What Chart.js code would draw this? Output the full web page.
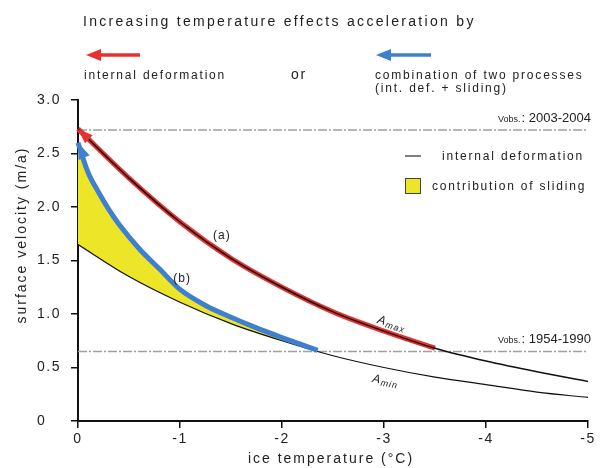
<!DOCTYPE html>
<html>
<head>
<meta charset="utf-8">
<script src="https://cdn.jsdelivr.net/npm/chart.js@4.4.0/dist/chart.umd.min.js"></script>
<style>
html, body { margin: 0; padding: 0; background: #fff; }
#wrap { width: 604px; height: 468px; }
</style>
</head>
<body>
<div id="wrap"><canvas id="c" width="604" height="468"></canvas></div>
<script>
// ice temperature (°C) and modelled surface velocity (m/a)
var temps = [0, -0.5, -1, -1.5, -2, -2.5, -3, -3.5, -4, -4.5, -5];
var amax  = [2.73, 2.27, 1.86, 1.52, 1.25, 1.02, 0.84, 0.68, 0.56, 0.46, 0.37];
var amin  = [1.65, 1.35, 1.11, 0.91, 0.75, 0.61, 0.50, 0.41, 0.34, 0.27, 0.22];
var redEnd = 7; // Amax highlighted down to -3.5 °C

// curve (b): internal deformation + sliding, and Amin under it
var slideTemps = [0, -0.1, -0.2, -0.3, -0.4, -0.6, -0.8, -1.0, -1.25, -1.5, -1.75, -2.0, -2.35];
var slideTop   = [2.6, 2.32, 2.14, 1.98, 1.84, 1.61, 1.42, 1.23, 1.08, 0.97, 0.87, 0.78, 0.66];
var slideFloor = [1.65, 1.59, 1.52, 1.46, 1.40, 1.30, 1.20, 1.11, 1.00, 0.91, 0.82, 0.75, 0.65];

// observed velocities
var obsLevels = [2.72, 0.65];
var obsLabels = ['2003-2004', '1954-1990'];

var xTicks = [0, -1, -2, -3, -4, -5];
var yTicks = [0, 0.5, 1, 1.5, 2, 2.5, 3];

var FONT = '"Liberation Sans", Arial, sans-serif';
var TEXT = '#222';
var RED = '#e8302f', BLUE = '#3f7fcf', YELLOW = '#ede628', GREY = '#a0a0a0';

function pts(xs, ys) {
  return xs.map(function (x, i) { return { x: x, y: ys[i] }; });
}

function arrowHead(ctx, tx, ty, fx, fy, color, len, half) {
  var a = Math.atan2(ty - fy, tx - fx);
  var bx = tx - len * Math.cos(a), by = ty - len * Math.sin(a);
  ctx.beginPath();
  ctx.moveTo(tx, ty);
  ctx.lineTo(bx + half * Math.sin(a), by - half * Math.cos(a));
  ctx.lineTo(bx - half * Math.sin(a), by + half * Math.cos(a));
  ctx.closePath();
  ctx.fillStyle = color;
  ctx.fill();
}

function arrow(ctx, x1, x2, y, color) {
  ctx.strokeStyle = color;
  ctx.lineWidth = 3.5;
  ctx.beginPath();
  ctx.moveTo(x2, y);
  ctx.lineTo(x1 + 12, y);
  ctx.stroke();
  arrowHead(ctx, x1, y, x1 + 10, y, color, 15, 6);
}

var annot = {
  id: 'annot',
  beforeDraw: function (chart) {
    chart.ctx.letterSpacing = '1.5px';
  },
  afterDatasetsDraw: function (chart) {
    var ctx = chart.ctx, xs = chart.scales.x, ys = chart.scales.y;
    var px = function (t) { return xs.getPixelForValue(t); };
    var py = function (v) { return ys.getPixelForValue(v); };
    ctx.save();
    arrowHead(ctx, px(temps[0]), py(amax[0]), px(temps[1]), py(amax[1]), RED, 15, 5.5);
    arrowHead(ctx, px(slideTemps[0]), py(slideTop[0]), px(slideTemps[2]), py(slideTop[2]), BLUE, 16, 6);
    ctx.restore();
  },
  afterDraw: function (chart) {
    var ctx = chart.ctx, xs = chart.scales.x, ys = chart.scales.y, ca = chart.chartArea;
    var px = function (t) { return xs.getPixelForValue(t); };
    var py = function (v) { return ys.getPixelForValue(v); };
    ctx.save();
    ctx.textBaseline = 'alphabetic';

    // header
    arrow(ctx, 86, 140, 55, RED);
    arrow(ctx, 376, 431, 55, BLUE);
    ctx.fillStyle = TEXT;
    ctx.letterSpacing = '2.3px';
    ctx.font = '14px ' + FONT;
    ctx.fillText('Increasing temperature effects acceleration by', 83, 26);
    ctx.font = '12px ' + FONT;
    ctx.letterSpacing = '1.8px';
    ctx.fillText('internal deformation', 84, 79);
    ctx.font = '14px ' + FONT;
    ctx.fillText('or', 291, 79);
    ctx.font = '12px ' + FONT;
    ctx.fillText('combination of two processes', 375, 79);
    ctx.fillText('(int. def. + sliding)', 375, 92);

    // legend
    ctx.strokeStyle = '#555';
    ctx.lineWidth = 1.5;
    ctx.beginPath();
    ctx.moveTo(405, 156); ctx.lineTo(421, 156);
    ctx.stroke();
    ctx.fillText('internal deformation', 442, 160);
    ctx.fillStyle = YELLOW;
    ctx.fillRect(405, 178, 15, 15);
    ctx.strokeStyle = '#444';
    ctx.lineWidth = 1;
    ctx.strokeRect(405.5, 178.5, 15, 15);
    ctx.fillStyle = TEXT;
    ctx.fillText('contribution of sliding', 432, 190);

    // observed velocity labels
    ctx.letterSpacing = '0px';
    obsLevels.forEach(function (v, i) {
      var y = py(v) - 8;
      ctx.textAlign = 'right';
      ctx.font = '13px ' + FONT;
      ctx.fillText(': ' + obsLabels[i], ca.right + 3, y);
      var w = ctx.measureText(': ' + obsLabels[i]).width;
      ctx.font = '9px ' + FONT;
      ctx.fillText('Vobs.', ca.right + 2 - w, y);
    });
    ctx.textAlign = 'left';

    // curve labels
    ctx.letterSpacing = '1px';
    ctx.font = '12px ' + FONT;
    ctx.textAlign = 'center';
    ctx.fillText('(a)', px(-1.41), py(1.74) + 4);
    ctx.fillText('(b)', px(-1.02), py(1.34) + 4);

    function slopeLabel(t, v, t1, v1, t2, v2, sub) {
      var ang = Math.atan2(py(v2) - py(v1), px(t2) - px(t1)) * 0.85;
      ctx.save();
      ctx.translate(px(t), py(v));
      ctx.rotate(ang);
      ctx.textAlign = 'left';
      ctx.font = 'italic 12px ' + FONT;
      ctx.fillText('A', -16, 4);
      var w = ctx.measureText('A').width;
      ctx.font = 'italic 9px ' + FONT;
      ctx.fillText(sub, -16 + w, 6);
      ctx.restore();
    }
    slopeLabel(-3.09, 0.91, temps[5], amax[5], temps[7], amax[7], 'max');
    slopeLabel(-3.04, 0.375, temps[5], amin[5], temps[7], amin[7], 'min');

    // axis titles
    ctx.letterSpacing = '2px';
    ctx.font = '14px ' + FONT;
    ctx.textAlign = 'center';
    ctx.fillText('ice temperature (°C)', 331, 463);
    ctx.save();
    ctx.translate(26, 235);
    ctx.rotate(-Math.PI / 2);
    ctx.fillText('surface velocity (m/a)', 0, 0);
    ctx.restore();

    ctx.restore();
  }
};

var axisStyle = {
  border: { display: true, color: '#111', width: 2 },
  grid: { display: true, drawOnChartArea: false, drawTicks: true, tickLength: 7, color: '#111', lineWidth: 1.5 }
};

new Chart(document.getElementById('c'), {
  type: 'line',
  data: {
    datasets: [
      { data: pts(slideTemps, slideFloor), borderWidth: 0, pointRadius: 0, fill: false, order: 20, cubicInterpolationMode: 'monotone' },
      { data: pts(slideTemps, slideTop), borderWidth: 0, pointRadius: 0, fill: '-1', backgroundColor: YELLOW, order: 19, cubicInterpolationMode: 'monotone' },
      { data: pts([0, -5], [obsLevels[0], obsLevels[0]]), borderColor: GREY, borderWidth: 1.5, borderDash: [9, 2, 2, 2], pointRadius: 0, order: 15 },
      { data: pts([0, -5], [obsLevels[1], obsLevels[1]]), borderColor: GREY, borderWidth: 1.5, borderDash: [9, 2, 2, 2], pointRadius: 0, order: 15 },
      { data: pts(temps, amin), borderColor: '#111', borderWidth: 1.2, pointRadius: 0, order: 10, cubicInterpolationMode: 'monotone' },
      { data: pts(temps.slice(0, redEnd + 1), amax.slice(0, redEnd + 1)), borderColor: RED, borderWidth: 5, pointRadius: 0, order: 8, clip: false, cubicInterpolationMode: 'monotone' },
      { data: pts(temps, amax), borderColor: '#111', borderWidth: 1.5, pointRadius: 0, order: 6, cubicInterpolationMode: 'monotone' },
      { data: pts(slideTemps, slideTop), borderColor: BLUE, borderWidth: 5, pointRadius: 0, order: 5, clip: false, cubicInterpolationMode: 'monotone' }
    ]
  },
  options: {
    responsive: false,
    animation: false,
    layout: { padding: { top: 100, right: 16, left: 37, bottom: 0 } },
    plugins: { legend: { display: false }, tooltip: { enabled: false } },
    scales: {
      x: Object.assign({
        type: 'linear', min: -5, max: 0, reverse: true,
        afterBuildTicks: function (s) { s.ticks = xTicks.map(function (v) { return { value: v }; }); },
        afterFit: function (s) { s.height = 47; },
        ticks: { color: TEXT, font: { size: 14, family: FONT }, padding: 3, maxRotation: 0,
          callback: function (v) { return String(v); } }
      }, axisStyle),
      y: Object.assign({
        type: 'linear', min: 0, max: 3,
        afterBuildTicks: function (s) { s.ticks = yTicks.map(function (v) { return { value: v }; }); },
        afterFit: function (s) { s.width = 41; },
        ticks: { color: TEXT, font: { size: 14, family: FONT }, crossAlign: 'far',
          callback: function (v) { return v === 0 ? '0' : v.toFixed(1); } }
      }, axisStyle)
    }
  },
  plugins: [annot]
});
</script>
</body>
</html>
